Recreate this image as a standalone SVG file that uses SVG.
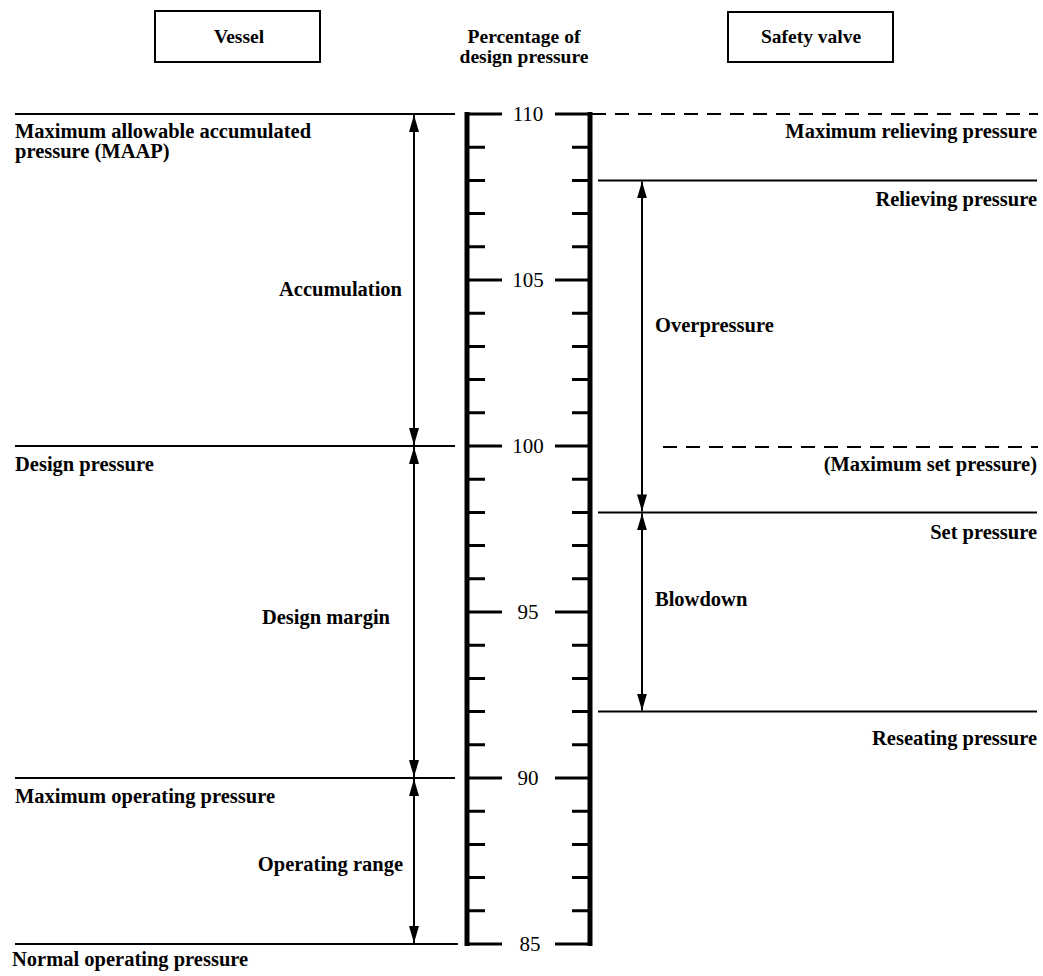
<svg xmlns="http://www.w3.org/2000/svg" width="1043" height="976" viewBox="0 0 1043 976">
<defs>
<style>
.t{font-family:"Liberation Serif","Times New Roman",serif;font-weight:bold;font-size:20.5px;fill:#000}
.h{font-size:19.5px}
.n{font-family:"Liberation Serif","Times New Roman",serif;font-size:21px;fill:#000;text-anchor:middle}
.r{text-anchor:end}
.c{text-anchor:middle}
.ln{stroke:#000;stroke-width:2;fill:none}
.dash{stroke:#000;stroke-width:2;stroke-dasharray:14 9;fill:none}
.rail{stroke:#000;stroke-width:5;fill:none}
.tick{stroke:#000;stroke-width:3;fill:none}
.box{stroke:#000;stroke-width:2;fill:#fff}
.arr{stroke:#000;stroke-width:2;fill:none;marker-start:url(#ah);marker-end:url(#ah)}
</style>
<marker id="ah" viewBox="0 0 17 10" refX="17" refY="5" markerWidth="17" markerHeight="10" markerUnits="userSpaceOnUse" orient="auto-start-reverse">
<path d="M0,0 L17,5 L0,10 Z" fill="#000"/>
</marker>
</defs>
<rect width="1043" height="976" fill="#fff"/>

<g id="vessel-box">
<rect class="box" x="155" y="11" width="165" height="51"/>
<text class="t h c" x="239" y="43">Vessel</text>
</g>
<g id="scale-title">
<text class="t h c" x="524" y="43">Percentage of</text>
<text class="t h c" x="524" y="63">design pressure</text>
</g>
<g id="valve-box">
<rect class="box" x="728" y="12" width="165" height="50"/>
<text class="t h c" x="811" y="43">Safety valve</text>
</g>

<g id="scale">
<line class="rail" x1="467" y1="112" x2="467" y2="946"/>
<line class="rail" x1="590" y1="112" x2="590" y2="946"/>
<path class="tick" d="M467,114H502 M467,147.2H485 M467,180.4H485 M467,213.6H485 M467,246.8H485 M467,280H502 M467,313.2H485 M467,346.4H485 M467,379.6H485 M467,412.8H485 M467,446H502 M467,479.2H485 M467,512.4H485 M467,545.6H485 M467,578.8H485 M467,612H502 M467,645.2H485 M467,678.4H485 M467,711.6H485 M467,744.8H485 M467,778H502 M467,811.2H485 M467,844.4H485 M467,877.6H485 M467,910.8H485 M467,944H502"/>
<path class="tick" d="M590,114H555 M590,147.2H572 M590,180.4H572 M590,213.6H572 M590,246.8H572 M590,280H555 M590,313.2H572 M590,346.4H572 M590,379.6H572 M590,412.8H572 M590,446H555 M590,479.2H572 M590,512.4H572 M590,545.6H572 M590,578.8H572 M590,612H555 M590,645.2H572 M590,678.4H572 M590,711.6H572 M590,744.8H572 M590,778H555 M590,811.2H572 M590,844.4H572 M590,877.6H572 M590,910.8H572 M590,944H555"/>
<text class="n" x="528" y="121">110</text>
<text class="n" x="528" y="287">105</text>
<text class="n" x="528" y="453">100</text>
<text class="n" x="528" y="619">95</text>
<text class="n" x="528" y="785">90</text>
<text class="n" x="530" y="951">85</text>
</g>

<g id="maap">
<line class="ln" x1="15" y1="114" x2="455" y2="114"/>
<text class="t" x="15" y="138">Maximum allowable accumulated</text>
<text class="t" x="15" y="158">pressure (MAAP)</text>
</g>
<g id="design-pressure">
<line class="ln" x1="15" y1="446" x2="455" y2="446"/>
<text class="t" x="15" y="471">Design pressure</text>
</g>
<g id="max-operating">
<line class="ln" x1="15" y1="778" x2="455" y2="778"/>
<text class="t" x="15" y="803">Maximum operating pressure</text>
</g>
<g id="normal-operating">
<line class="ln" x1="15" y1="944" x2="458" y2="944"/>
<text class="t" x="12" y="966">Normal operating pressure</text>
</g>

<g id="max-relieving">
<line class="dash" x1="592" y1="114" x2="1038" y2="114"/>
<text class="t r" x="1037" y="138">Maximum relieving pressure</text>
</g>
<g id="relieving">
<line class="ln" x1="598" y1="180.4" x2="1037" y2="180.4"/>
<text class="t r" x="1037" y="206">Relieving pressure</text>
</g>
<g id="max-set">
<line class="dash" x1="663" y1="447" x2="1038" y2="447"/>
<text class="t r" x="1037" y="471">(Maximum set pressure)</text>
</g>
<g id="set">
<line class="ln" x1="598" y1="512.4" x2="1037" y2="512.4"/>
<text class="t r" x="1037" y="539">Set pressure</text>
</g>
<g id="reseating">
<line class="ln" x1="598" y1="711.6" x2="1037" y2="711.6"/>
<text class="t r" x="1037" y="745">Reseating pressure</text>
</g>

<g id="dimension-labels">
<text class="t r" x="402" y="296">Accumulation</text>
<text class="t r" x="390" y="624">Design margin</text>
<text class="t r" x="403" y="871">Operating range</text>
<text class="t" x="655" y="332">Overpressure</text>
<text class="t" x="655" y="606">Blowdown</text>
</g>

<g id="connectors">
<line class="arr" x1="414" y1="115" x2="414" y2="445"/>
<line class="arr" x1="414" y1="447" x2="414" y2="777"/>
<line class="arr" x1="414" y1="779" x2="414" y2="943"/>
<line class="arr" x1="642" y1="181.4" x2="642" y2="511.4"/>
<line class="arr" x1="642" y1="513.4" x2="642" y2="710.6"/>
</g>
</svg>
